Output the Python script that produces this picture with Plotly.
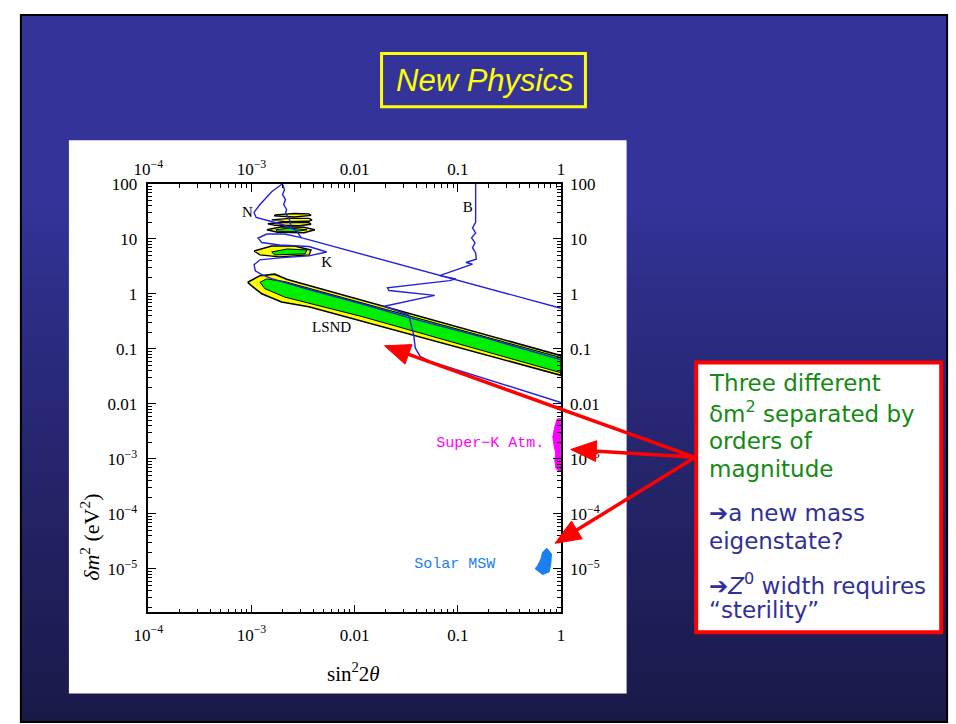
import math
import plotly.graph_objects as go

# ---------------- data ----------------
x_tickvals = [1e-4, 1e-3, 1e-2, 1e-1, 1]
x_ticktext = ["10<sup>−4</sup>", "10<sup>−3</sup>", "0.01", "0.1", "1"]
y_tickvals = [1e-5, 1e-4, 1e-3, 1e-2, 1e-1, 1, 10, 100]
y_ticktext = ["10<sup>−5</sup>", "10<sup>−4</sup>", "10<sup>−3</sup>", "0.01", "0.1", "1", "10", "100"]

# LSND allowed band (outer = yellow, inner = green)
lsnd_outer_x = [9.2e-4, 1.06e-3, 1.21e-3, 1.68e-3, 2.23e-3, 0.032, 1.0, 1.0, 0.096, 3.6e-3, 1.96e-3, 1.26e-3, 1.02e-3]
lsnd_outer_y = [1.62, 1.89, 2.14, 2.28, 1.82, 0.454, 0.0753, 0.033, 0.109, 0.582, 0.71, 1.0, 1.36]
lsnd_inner_x = [1.21e-3, 1.40e-3, 2.10e-3, 1.0, 1.0, 0.01205, 2.10e-3, 1.35e-3]
lsnd_inner_y = [1.62, 1.87, 1.67, 0.0693, 0.0368, 0.382, 0.873, 1.24]

# small LSND islands at high dm^2
island_a_x = [1.68e-3, 2.61e-3, 3.61e-3, 3.78e-3, 2.61e-3, 1.68e-3]
island_a_y = [27.2, 28.9, 28.4, 26.7, 25.0, 26.1]
island_b_x = [1.57e-3, 2.33e-3, 3.61e-3, 3.86e-3, 3.61e-3, 2.10e-3]
island_b_y = [22.1, 23.5, 23.5, 22.1, 20.8, 20.5]
island_c_x = [1.44e-3, 2.10e-3, 3.61e-3, 3.78e-3, 2.90e-3, 1.68e-3]
island_c_y = [18.75, 19.95, 19.7, 18.4, 17.3, 17.6]
island_d_x = [1.41e-3, 1.96e-3, 3.24e-3, 4.12e-3, 3.24e-3, 1.79e-3]
island_d_y = [14.6, 16.6, 16.2, 14.6, 12.9, 13.2]
island_d_in_x = [1.72e-3, 2.33e-3, 3.46e-3, 2.61e-3, 1.79e-3]
island_d_in_y = [14.6, 15.7, 14.6, 13.5, 13.7]
island_e_x = [1.06e-3, 1.57e-3, 2.61e-3, 3.78e-3, 3.61e-3, 1.87e-3, 1.21e-3]
island_e_y = [6.01, 7.40, 7.40, 6.27, 5.10, 4.70, 5.10]
island_e_in_x = [1.57e-3, 2.23e-3, 3.46e-3, 3.31e-3, 1.68e-3]
island_e_in_y = [5.77, 6.53, 6.27, 5.32, 5.10]

# exclusion contours (blue)
karmen_x = [1.0, 3.03e-3, 2.09e-3, 1.41e-3, 1.16e-3, 1.26e-3, 1.87e-3, 3.61e-3, 5.36e-3, 3.61e-3,
            1.87e-3, 1.21e-3, 1.06e-3, 1.09e-3, 1.26e-3, 1.57e-3, 3.61e-3, 0.0121, 0.0322, 0.185, 1.0]
karmen_y = [0.547, 10.5, 12.2, 12.2, 10.3, 8.55, 7.71, 7.25, 5.77, 4.89,
            4.51, 4.15, 3.37, 2.63, 2.23, 1.89, 1.20, 0.646, 0.377, 0.158, 0.0638]
nomad_x = [2.44e-3, 2.33e-3, 2.14e-3, 2.19e-3, 2.05e-3, 2.14e-3, 2.00e-3, 2.09e-3, 2.00e-3,
           1.57e-3, 1.21e-3, 1.06e-3, 1.11e-3, 1.44e-3, 1.96e-3, 2.72e-3, 3.03e-3]
nomad_y = [16.2, 22.6, 28.9, 34.1, 42.0, 51.6, 63.5, 78.0, 100,
           71.8, 42.0, 30.2, 24.5, 21.7, 18.4, 14.3, 10.5]
bugey_x = [0.149, 0.149, 0.139, 0.149, 0.136, 0.147, 0.139, 0.149, 0.151, 0.120, 0.139, 0.111,
           0.0668, 0.0962, 0.0832, 0.0208, 0.0216, 0.0598, 0.0194, 0.0224, 0.0334, 0.0347,
           0.0374, 0.0387, 0.0432, 0.0537, 1.0]
bugey_y = [100, 19.95, 15.8, 12.8, 10.4, 8.48, 6.90, 5.54, 4.27, 3.71, 3.47, 3.02,
           2.14, 1.87, 1.74, 1.29, 1.15, 0.937, 0.594, 0.541, 0.410, 0.311,
           0.179, 0.104, 0.0731, 0.0594, 0.0106]

# Super-K atmospheric and solar MSW regions
superk_x = [1.0, 0.922, 0.871, 0.834, 0.857, 0.891, 0.871, 0.895, 0.935, 1.0]
superk_y = [5.34e-3, 5.34e-3, 3.79e-3, 2.51e-3, 1.77e-3, 1.26e-3, 9.53e-4, 6.76e-4, 6.15e-4, 6.15e-4]
solar_x = [0.731, 0.809, 0.798, 0.769, 0.664, 0.562, 0.596, 0.641, 0.664]
solar_y = [2.38e-5, 1.88e-5, 1.24e-5, 8.83e-6, 7.89e-6, 1.01e-5, 1.16e-5, 1.53e-5, 2.02e-5]

# labels inside the plot
label_text = ["N", "K", "B", "LSND"]
label_x = [9.12e-4, 5.36e-3, 0.125, 5.98e-3]
label_y = [28.9, 3.66, 35.6, 0.239]

# ---------------- figure ----------------
W, H = 956, 724
def PX(x):
    return x / W
def PY(y):
    return 1 - y / H

fig = go.Figure()

YEL, GRN, BLU = "#ffff00", "#00ee00", "#2222dd"

def region(xs, ys, fill, lw=1.3, lc="black"):
    fig.add_trace(go.Scatter(x=xs + xs[:1], y=ys + ys[:1], mode="lines", fill="toself",
                             fillcolor=fill, line=dict(color=lc, width=lw),
                             hoverinfo="skip", showlegend=False))

def curve(xs, ys, color=BLU, lw=1.4):
    fig.add_trace(go.Scatter(x=xs, y=ys, mode="lines", line=dict(color=color, width=lw),
                             hoverinfo="skip", showlegend=False))

region(lsnd_outer_x, lsnd_outer_y, YEL, 1.6)
region(lsnd_inner_x, lsnd_inner_y, GRN, 1.0)
for xs, ys in [(island_a_x, island_a_y), (island_b_x, island_b_y), (island_c_x, island_c_y),
               (island_d_x, island_d_y), (island_e_x, island_e_y)]:
    region(xs, ys, YEL, 1.4)
region(island_d_in_x, island_d_in_y, GRN, 1.0)
region(island_e_in_x, island_e_in_y, GRN, 1.0)

curve(karmen_x, karmen_y)
curve(nomad_x, nomad_y)
curve(bugey_x, bugey_y)

region(superk_x, superk_y, "#ff00ff", 1.0, "#ff00ff")
region(solar_x, solar_y, "#1a80f0", 1.0, "#1a80f0")

fig.add_trace(go.Scatter(x=label_x, y=label_y, text=label_text, mode="text",
                         textfont=dict(family="Liberation Serif", size=15, color="black"),
                         hoverinfo="skip", showlegend=False))
fig.add_trace(go.Scatter(x=[0.689], y=[1.90e-3], text=["Super−K Atm."], mode="text",
                         textposition="middle left",
                         textfont=dict(family="Liberation Mono", size=15, color="#ff00ff"),
                         hoverinfo="skip", showlegend=False))
fig.add_trace(go.Scatter(x=[0.231], y=[1.24e-5], text=["Solar MSW"], mode="text",
                         textposition="middle left",
                         textfont=dict(family="Liberation Mono", size=15, color="#1a80f0"),
                         hoverinfo="skip", showlegend=False))
# dummy trace for the mirrored label axes
fig.add_trace(go.Scatter(x=[1e-3], y=[1], xaxis="x2", yaxis="y2", mode="markers",
                         marker=dict(opacity=0), hoverinfo="skip", showlegend=False))

minor_x = [k * 10.0 ** e for e in range(-4, 0) for k in range(2, 10)]
minor_y = [k * 10.0 ** e for e in range(-6, 2) for k in range(2, 10) if k * 10.0 ** e > 1.6e-6]

xdom = [PX(136), PX(557)]
ydom = [PY(611), PY(177)]
xr = [-4, 0]
yr = [-5.79, 2]
tickfont = dict(family="Liberation Serif", size=17, color="black")

fig.update_layout(
    width=W, height=H, margin=dict(l=0, r=0, t=0, b=0), autosize=False,
    paper_bgcolor="white", plot_bgcolor="rgba(0,0,0,0)", showlegend=False,
    xaxis=dict(type="log", range=xr, domain=xdom, anchor="y", showline=True, linecolor="black",
               linewidth=1.5, mirror="allticks", ticks="inside", ticklen=8, tickwidth=1.2,
               tickcolor="black", tickvals=x_tickvals, ticktext=x_ticktext, tickfont=tickfont,
               showgrid=False, zeroline=False, ticklabelstandoff=6,
               minor=dict(tickvals=minor_x, ticks="inside", ticklen=4, tickwidth=1,
                          tickcolor="black", showgrid=False)),
    yaxis=dict(type="log", range=yr, domain=ydom, anchor="x", showline=True, linecolor="black",
               linewidth=1.5, mirror="allticks", ticks="inside", ticklen=8, tickwidth=1.2,
               tickcolor="black", tickvals=y_tickvals, ticktext=y_ticktext, tickfont=tickfont,
               showgrid=False, zeroline=False, ticklabelstandoff=6,
               minor=dict(tickvals=minor_y, ticks="inside", ticklen=4, tickwidth=1,
                          tickcolor="black", showgrid=False)),
    xaxis2=dict(type="log", range=xr, domain=xdom, anchor="y2", overlaying="x", side="top",
                showline=False, ticks="", tickvals=x_tickvals, ticktext=x_ticktext,
                tickfont=tickfont, showgrid=False, zeroline=False, ticklabelstandoff=4),
    yaxis2=dict(type="log", range=yr, domain=ydom, anchor="x2", overlaying="y", side="right",
                showline=False, ticks="", tickvals=y_tickvals, ticktext=y_ticktext,
                tickfont=tickfont, showgrid=False, zeroline=False, ticklabelstandoff=8),
)

shapes = []
# slide background gradient
y = 6.0
step = 8.0
while y < 722:
    t = max(0.0, min(1.0, (y - 200) / 522))
    t = t ** 0.85
    c0, c1 = (51, 51, 153), (25, 25, 72)
    col = tuple(int(round(a + (b - a) * t)) for a, b in zip(c0, c1))
    shapes.append(dict(type="rect", xref="paper", yref="paper", layer="below",
                       x0=PX(6), x1=PX(951), y0=PY(min(y + step + 2, 722)), y1=PY(y),
                       fillcolor="rgb(%d,%d,%d)" % col, line=dict(width=0)))
    y += step
# border
shapes.append(dict(type="rect", xref="paper", yref="paper", layer="below",
                   x0=PX(6), x1=PX(951), y0=PY(722), y1=PY(6),
                   line=dict(color="black", width=2), fillcolor="rgba(0,0,0,0)"))
# white plot panel
shapes.append(dict(type="rect", xref="paper", yref="paper", layer="below",
                   x0=PX(55), x1=PX(624), y0=PY(693), y1=PY(133),
                   fillcolor="white", line=dict(width=0)))
# title box
shapes.append(dict(type="rect", xref="paper", yref="paper", layer="above",
                   x0=PX(374), x1=PX(582), y0=PY(99), y1=PY(45),
                   line=dict(color="#ffff00", width=3), fillcolor="rgba(0,0,0,0)"))
# side text box
shapes.append(dict(type="rect", xref="paper", yref="paper", layer="above",
                   x0=PX(695), x1=PX(945), y0=PY(631), y1=PY(358),
                   line=dict(color="#ff0000", width=4), fillcolor="white"))

def arrow(x0, y0, x1, y1, L=26, Wd=21, lw=3.5):
    dx, dy = x1 - x0, y1 - y0
    d = math.hypot(dx, dy)
    ux, uy = dx / d, dy / d
    bx, by = x1 - ux * (L - 2), y1 - uy * (L - 2)
    hx, hy = x1 - ux * L, y1 - uy * L
    nx, ny = -uy, ux
    p1 = (hx + nx * Wd / 2, hy + ny * Wd / 2)
    p2 = (hx - nx * Wd / 2, hy - ny * Wd / 2)
    shapes.append(dict(type="line", xref="paper", yref="paper", layer="above",
                       x0=PX(x0), y0=PY(y0), x1=PX(bx), y1=PY(by),
                       line=dict(color="#ff0000", width=lw)))
    path = "M %f,%f L %f,%f L %f,%f Z" % (PX(x1), PY(y1), PX(p1[0]), PY(p1[1]), PX(p2[0]), PY(p2[1]))
    shapes.append(dict(type="path", xref="paper", yref="paper", layer="above", path=path,
                       fillcolor="#ff0000", line=dict(color="#ff0000", width=1)))

arrow(694, 454, 377, 341)
arrow(694, 454, 567, 446)
arrow(694, 454, 551, 541)

fig.update_layout(shapes=shapes)

ann = []
ann.append(dict(xref="paper", yref="paper", x=PX(479), y=PY(72), xanchor="center", yanchor="middle",
                text="<i>New Physics</i>",
                showarrow=False, font=dict(family="Liberation Sans", size=31, color="#ffff00")))
ann.append(dict(xref="paper", yref="paper", x=PX(345), y=PY(672), xanchor="center", yanchor="middle",
                text="sin<sup>2</sup>2<i>θ</i>",
                showarrow=False, font=dict(family="Liberation Serif", size=21, color="black")))
ann.append(dict(xref="paper", yref="paper", x=PX(77), y=PY(535), xanchor="center", yanchor="middle",
                textangle=-90, text="<i>δm</i><sup>2</sup> (eV<sup>2</sup>)",
                showarrow=False, font=dict(family="Liberation Serif", size=22, color="black")))

box_lines = [
    ("Three different", 379, "#148a14"),
    ("δm<sup>2</sup> separated by", 408, "#148a14"),
    ("orders of", 437, "#148a14"),
    ("magnitude", 466, "#148a14"),
    ("➔a new mass", 510, "#30309a"),
    ("eigenstate?", 539, "#30309a"),
    ("➔<i>Z</i><sup>0</sup> width requires", 582, "#30309a"),
    ("“sterility”", 609, "#30309a"),
]
for txt, yy, col in box_lines:
    ann.append(dict(xref="paper", yref="paper", x=PX(706), y=PY(yy), xanchor="left",
                    yanchor="middle", text=txt, showarrow=False,
                    font=dict(family="DejaVu Sans", size=23, color=col)))
fig.update_layout(annotations=ann)

fig.write_html("out.html", config={"displayModeBar": False},
               post_script="document.documentElement.style.overflow='hidden';"
                           "document.body.style.margin='0';"
                           "document.body.style.overflow='hidden';")
